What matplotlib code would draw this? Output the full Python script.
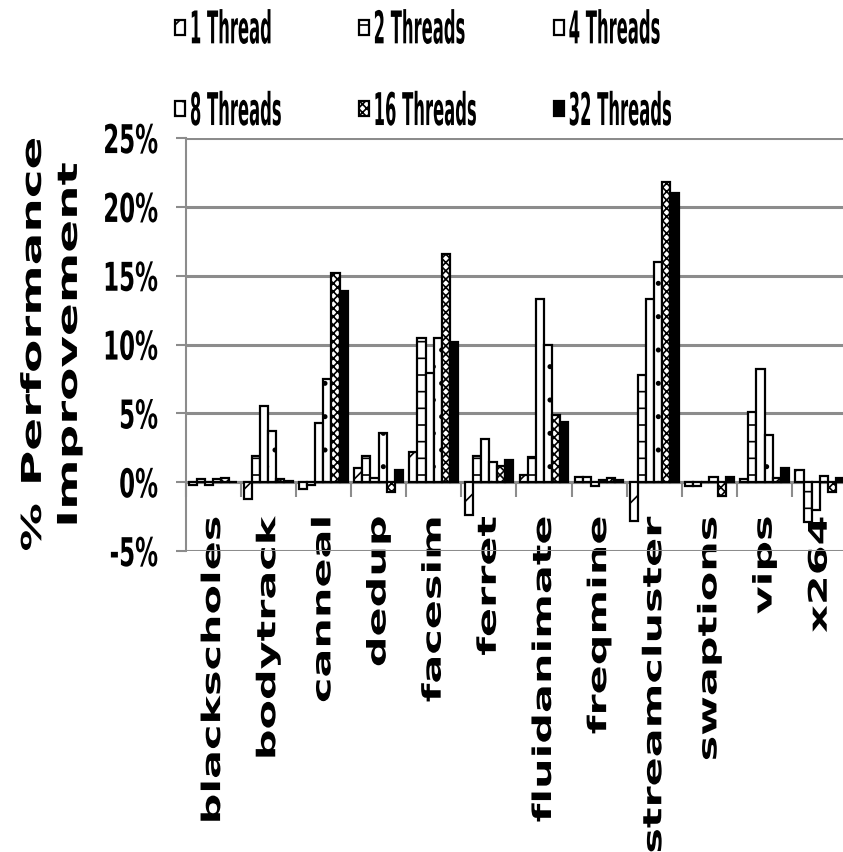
import numpy as np
import matplotlib
matplotlib.use('Agg')
import matplotlib.pyplot as plt
from matplotlib.patheffects import AbstractPathEffect
from matplotlib.transforms import Affine2D

# benchmark names and % improvement per thread count
categories = ['blackscholes', 'bodytrack', 'canneal', 'dedup', 'facesim', 'ferret',
              'fluidanimate', 'freqmine', 'streamcluster', 'swaptions', 'vips', 'x264']
series_names = ['1 Thread', '2 Threads', '4 Threads', '8 Threads', '16 Threads', '32 Threads']

thread_1 = [-0.2, -1.2, -0.5, 1.0, 2.2, -2.4, 0.5, 0.35, -2.8, -0.3, 0.2, 0.85]
thread_2 = [0.2, 1.9, -0.2, 1.9, 10.5, 1.9, 1.8, 0.35, 7.75, -0.3, 5.1, -2.9]
thread_4 = [-0.2, 5.5, 4.3, 0.3, 7.9, 3.1, 13.3, -0.25, 13.3, 0.0, 8.2, -2.0]
thread_8 = [0.2, 3.75, 7.5, 3.6, 10.5, 1.5, 10.0, 0.15, 16.0, 0.35, 3.4, 0.45]
thread_16 = [0.3, 0.2, 15.2, -0.7, 16.6, 1.2, 4.9, 0.3, 21.8, -1.0, 0.3, -0.7]
thread_32 = [0.0, 0.05, 13.9, 0.9, 10.2, 1.6, 4.4, 0.15, 21.0, 0.35, 1.0, 0.3]

ytick_values = [-5, 0, 5, 10, 15, 20, 25]

FACES = ['white', 'white', 'white', 'white', 'white', 'black']
HATCHES = ['/', '-', '', '.', 'xxxx', '']
GREY = '#8c8c8c'


class Stretch(AbstractPathEffect):
    """Stretch glyphs vertically around a fraction of their own height."""

    def __init__(self, sy, anchor=0.5):
        super().__init__()
        self.sy = sy
        self.anchor = anchor

    def draw_path(self, renderer, gc, tpath, affine, rgbFace=None):
        ext = tpath.get_extents(affine)
        y0 = ext.y0 + self.anchor * ext.height
        tr = affine + Affine2D().translate(0, -y0).scale(1, self.sy).translate(0, y0)
        renderer.draw_path(gc, tpath, tr, rgbFace)


plt.rcParams['font.family'] = 'DejaVu Sans'
plt.rcParams['font.weight'] = 'bold'
plt.rcParams['hatch.linewidth'] = 1.2

fig = plt.figure(figsize=(8.43, 8.53), dpi=100)
ax = fig.add_axes([185.5 / 843, 301 / 853, 661.8 / 843, 413 / 853])

# spines first: moving a spine resets the ticks
for s in ['top', 'right']:
    ax.spines[s].set_visible(False)
ax.spines['bottom'].set_position(('data', 0))
ax.spines['bottom'].set_color(GREY)
ax.spines['bottom'].set_linewidth(2.2)
ax.spines['left'].set_color(GREY)
ax.spines['left'].set_linewidth(1.5)

series = [thread_1, thread_2, thread_4, thread_8, thread_16, thread_32]
x = np.arange(len(categories))
width = 0.147
bars = []
for i, vals in enumerate(series):
    b = ax.bar(x + (i - 2.5) * width, vals, width, facecolor=FACES[i],
               edgecolor='black', linewidth=1.6, hatch=HATCHES[i],
               label=series_names[i], zorder=3)
    bars.append(b)

ax.set_xlim(-0.5, len(categories) - 0.5)
ax.set_ylim(-5, 25)
ax.set_yticks(ytick_values)
ylabels = ax.set_yticklabels([f'{v}%' for v in ytick_values], fontsize=16.5)
ax.set_xticks(x)
xlabels = ax.set_xticklabels(categories, rotation=90, fontsize=18.5)
ax.set_xticks(np.arange(len(categories) + 1) - 0.5, minor=True)

ax.tick_params(axis='x', which='major', length=0, pad=24.5)
ax.tick_params(axis='x', which='minor', length=10.8, width=1.5, color=GREY)
ax.tick_params(axis='y', length=7.2, width=1.5, color=GREY, pad=12.5)
ax.grid(axis='y', color=GREY, linewidth=2.2)
ax.set_axisbelow(True)

ylab = ax.set_ylabel('% Performance\nImprovement', fontsize=19.7,
                     fontweight='bold', linespacing=1.5)
ax.yaxis.set_label_coords(-0.155, 0.5)

# legend: 3 columns, filled row by row
order = [0, 3, 1, 4, 2, 5]
leg = ax.legend([bars[k] for k in order], [series_names[k] for k in order],
                ncol=3, loc='upper left', bbox_to_anchor=(175 / 843, 1 - 20.5 / 853),
                bbox_transform=fig.transFigure, frameon=False, fontsize=11.8,
                handlelength=0.61, handleheight=1.04, handletextpad=0.3,
                columnspacing=4.7, labelspacing=4.0, borderpad=0, borderaxespad=0)

for t in ylabels:
    t.set_path_effects([Stretch(1.73)])
for t in xlabels:
    t.set_path_effects([Stretch(1.67, anchor=1.0)])
ylab.set_path_effects([Stretch(1.77)])
for t in leg.get_texts():
    t.set_path_effects([Stretch(2.75)])

fig.savefig('out.png', dpi=100)
